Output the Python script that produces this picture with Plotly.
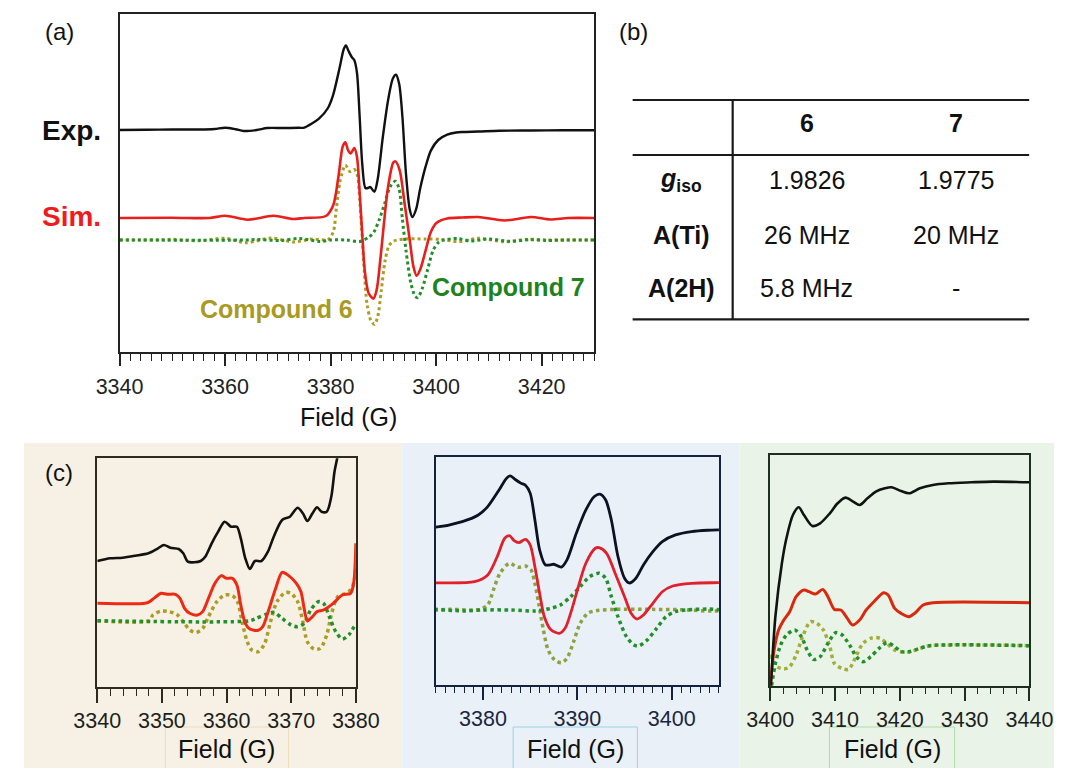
import numpy as np
import plotly.graph_objects as go

FONT = "Liberation Sans, Arial, sans-serif"
W, H = 1078, 768

# ---------------- data: EPR spectra (first-derivative, arb. units) ----------------
# full-range spectra (used in panel a and the central expanded view)
exp_field = [3340, 3345, 3350, 3355, 3358, 3360, 3362, 3363.5, 3366, 3368, 3371, 3374, 3375,
             3377.8, 3379.5, 3380.5, 3381.7, 3382.5, 3382.9, 3383.4, 3384.0, 3384.5, 3385.0,
             3385.5, 3386.0, 3386.6, 3387.1, 3387.5, 3388.3, 3388.9, 3389.9, 3390.9, 3391.8,
             3392.4, 3393.0, 3393.6, 3394.3, 3395.0, 3395.5, 3396.2, 3397.0, 3398.0, 3399.0,
             3400.4, 3402.1, 3403.8, 3405.0, 3408, 3412, 3418, 3424, 3430]
exp_signal = [0, 0.3, 0.5, 0.5, 1, 2.3, 0.8, -1, 0, 2, 2, 2.2, 2.4,
              11.4, 22, 35.4, 62, 81, 84.6, 79, 73, 69.7, 57,
              14, -34, -58, -58, -57, -61.7, -50, -7, 30, 51.5,
              55.3, 46, 14, -44.6, -79.4, -87, -79.4, -58, -36.7, -20.6,
              -10, -4.6, -2.5, -2, -1.5, -0.7, -0.5, -0.3, -0.3]

sim_field = [3340, 3350, 3357, 3360, 3364.3, 3369.2, 3372.8, 3375, 3379.1, 3380.5, 3381.5,
             3382.3, 3382.8, 3383.3, 3383.8, 3384.5, 3385.0, 3385.5, 3386.0, 3386.5, 3387.2,
             3388.1, 3388.7, 3389.4, 3390.1, 3390.9, 3391.9, 3392.3, 3393.1, 3394.0, 3395.0,
             3395.7, 3396.3, 3397.0, 3398.0, 3399.0, 3400.1, 3402.1, 3405, 3408, 3413, 3418,
             3421.6, 3425, 3430]
sim_signal = [0, 0.3, 0, 2.3, -1.7, 2.3, -1, 0, 2, 12.8, 42,
              71.6, 75.8, 67.8, 64.6, 70, 61, 26, -16.5, -54, -75,
              -80.6, -72.6, -43, -6, 31.6, 55.6, 56.6, 47.6, 15.5, -22,
              -48.6, -57.7, -51.3, -32.6, -14, -4.8, -0.5, 0.5, 1, -2.5, 1,
              -1.5, 0, 0]

cmp6_field = [3340, 3347, 3350, 3355, 3360, 3364, 3368.8, 3373, 3376.5, 3379.5, 3380.5, 3381.1,
              3381.8, 3382.8, 3383.7, 3384.5, 3385.1, 3385.5, 3385.9, 3386.4, 3386.9, 3387.6,
              3388.3, 3388.9, 3389.6, 3390.3, 3391.1, 3392.0, 3394, 3398, 3401, 3404.3, 3408,
              3413, 3417.3, 3421, 3430]
cmp6_signal = [0, 0, 0.7, -0.8, 1.7, -2.7, 2, -2, 1, 0.5, 8, 32,
               58.8, 74.8, 68.4, 70.5, 64, 42.7, 10.7, -32, -64, -80,
               -84.4, -77.4, -50.8, -21.4, -5.3, -1, 1, 1, 0.5, -1.7, 1.7,
               -1.7, 0.7, 0, 0]

cmp7_field = [3340, 3364, 3366, 3370.5, 3374, 3378, 3380, 3383, 3385.5, 3387.2, 3388.2, 3389.3,
              3390.3, 3391.3, 3392.3, 3393.0, 3393.6, 3394.3, 3395.2, 3396.0, 3396.5, 3397.4,
              3398.4, 3399.4, 3400.4, 3401.5, 3404, 3406.5, 3410, 3414, 3418, 3421, 3425, 3430]
cmp7_signal = [0, 0, 0.5, -0.5, 1.5, -1.5, 0, 0, -1.6, 2.7, 8, 21.4,
               37.4, 53.4, 58.8, 50.7, 21.4, -10.7, -42.7, -56, -57.7, -48,
               -29.4, -10.7, -2.7, 0, 1.5, -1, 1, -1.3, 0.3, -0.5, 0, 0]

# low-field wing, vertically expanded
lo_exp_field = [3340, 3342, 3343.9, 3345.9, 3347.9, 3349.4, 3350.3, 3351.3, 3352.6, 3353.3, 3354.0,
                3355.0, 3356.0, 3356.7, 3357.7, 3358.7, 3359.7, 3360.7, 3361.6, 3362.2, 3362.9,
                3363.6, 3364.4, 3365.4, 3366.4, 3367.3, 3368.6, 3369.8, 3371.0, 3371.8, 3372.5,
                3373.3, 3374.0, 3374.7, 3375.5, 3376.2, 3376.7, 3377.2, 3377.8]
lo_exp = [-1, 1.7, 2.3, 4.3, 6.7, 11.7, 15, 12.3, 11, 6.7, -1.7,
          -2.3, -1, 3.3, 16.7, 28.3, 38.3, 33.3, 33.3, 21.7, 1.7,
          -9, -1, -1, 8.3, 23.3, 40, 43.3, 52.3, 46.7, 39,
          46.7, 52.7, 48.3, 48.3, 63.3, 88.3, 105, 140]

lo_sim_field = [3340, 3347.4, 3348.1, 3348.9, 3349.9, 3350.8, 3352.1, 3352.8, 3353.5, 3354.3,
                3355.5, 3356.3, 3357.2, 3358.2, 3359.2, 3359.95, 3360.9, 3361.6, 3362.2, 3362.9,
                3363.6, 3364.9, 3365.6, 3366.6, 3367.6, 3368.6, 3369.6, 3370.8, 3371.5, 3372.0,
                3372.5, 3373.3, 3374.0, 3375.0, 3376.5, 3377.9, 3379.2, 3379.7, 3380]
lo_sim = [0, 0, 1.7, 5.7, 10, 9, 9, 5, -5, -10,
          -11.7, -8.3, 5, 20, 27.7, 25, 25, 18.3, -1.7, -20,
          -25.7, -27, -23.3, -5, 15, 31, 27.7, 20, 11.7, -5,
          -17.7, -13.3, -8.3, -6.7, 0, 8.3, 10, 21.7, 60]

lo_cmp6_field = [3340, 3348, 3348.6, 3349.9, 3351.1, 3352.3, 3353.3, 3354.3, 3355.3, 3356.3,
                 3357.2, 3358.5, 3359.7, 3360.9, 3361.7, 3362.4, 3363.2, 3363.9, 3364.9, 3365.9,
                 3366.8, 3367.8, 3369.1, 3370.0, 3371.0, 3371.8, 3372.5, 3373.5, 3374.5, 3375.5,
                 3376.2, 3377.2, 3378.4, 3379.4, 3380]
lo_cmp6 = [0, 0, 5.7, 9.7, 9, 6.3, -1, -9.3, -11.7, -7.7,
           4, 19, 25.7, 25, 19, -1, -21, -29.3, -31, -22.7,
           -1, 19, 28.3, 27.3, 19, -1, -21, -28.3, -27.7, -14.3,
           5.7, 24, 27.3, 32.3, 52]

lo_cmp7_field = [3340, 3363.6, 3364.6, 3366.1, 3367.3, 3368.6, 3370.0, 3371.0, 3372.0, 3373.0,
                 3374.2, 3375.0, 3376.0, 3376.9, 3377.9, 3378.9, 3380]
lo_cmp7 = [0, 0, 2.3, 6.3, 8.3, 2.3, -4.3, -6, -2.7, 10.7,
           19, 17.3, 2.3, -11, -18.3, -14.3, -2.7]

# high-field wing, vertically expanded
hi_exp_field = [3400, 3400.8, 3401.8, 3402.5, 3403.5, 3404.4, 3405.2, 3406.5, 3407.7, 3409.2,
                3410.4, 3411.6, 3412.8, 3413.8, 3415.0, 3416.3, 3417.7, 3418.7, 3420.2, 3421.4,
                3423.1, 3425.1, 3427.5, 3431, 3434.4, 3440]
hi_exp = [-215, -134, -81, -56, -32.7, -25, -32.7, -43.7, -41, -31,
          -21, -15.3, -19.3, -22.7, -16, -9.3, -6, -5, -8.7, -11,
          -6, -2.7, -1, 0, 0.7, 0]

hi_sim_field = [3400, 3400.6, 3401.3, 3402.1, 3403.0, 3404.0, 3405.2, 3406.0, 3407.0, 3408.1,
                3408.9, 3409.9, 3410.9, 3411.9, 3412.7, 3413.8, 3414.8, 3416.0, 3417.5, 3418.2,
                3419.2, 3420.2, 3421.4, 3422.4, 3423.6, 3425.1, 3440]
hi_sim = [-83, -47.3, -27.3, -17.3, -9, 6, 12.7, 11, 8.7, 13.3,
          6, -6.7, -7.3, -15.7, -22.3, -17.3, -7.3, 1, 10, 7.7,
          -5.7, -10.7, -14, -10, -2.3, 0, 0]

hi_cmp6_field = [3400, 3401.1, 3402.1, 3403.0, 3404.0, 3405.0, 3406.2, 3407.2, 3408.2, 3409.2,
                 3409.9, 3411.1, 3412.1, 3413.1, 3414.3, 3415.8, 3417.0, 3418.0, 3419.2, 3420.2,
                 3421.7, 3423.1, 3424.6, 3440]
hi_cmp6 = [-9.3, -21, -23.3, -21, -9.3, 9, 24, 22.3, 15.7, -1,
           -17.7, -22.7, -23.7, -12.7, 2.3, 8, 7.3, 2.3, -4.3, -6,
           -6, -2.7, 0, 0]

hi_cmp7_field = [3400.2, 3400.8, 3401.6, 3402.5, 3403.8, 3404.8, 3405.7, 3406.7, 3407.7, 3408.9,
                 3410.1, 3411.1, 3412.4, 3413.3, 3414.3, 3415.5, 3416.8, 3418.0, 3419.2, 3420.2,
                 3421.4, 3422.9, 3424.6, 3440]
hi_cmp7 = [-40, -17.7, 0.7, 10.7, 15.7, 9, -4.3, -13.7, -11, 2.3,
           13, 10.7, -1, -11, -16, -11, -2.7, 3, -1, -6,
           -6, -3, 0, 0]

# fitted parameters for table (b)
table_cols = ["6", "7"]
table_rows = ["<b><i>g</i></b><sub><b>iso</b></sub>", "<b>A(Ti)</b>", "<b>A(2H)</b>"]
table_vals = [["1.9826", "1.9775"], ["26 MHz", "20 MHz"], ["5.8 MHz", "-"]]

# ---------------- styling ----------------
RED = "#e8201c"
OLIVE = "#aa9c24"
GREEN = "#22902a"
TICK_SIZE = 21.5


def px_x(x):
    return x / W


def px_y(y):
    return 1 - y / H


def dom_x(a, b):
    return [a / W, b / W]


def dom_y(top, bottom):
    return [1 - bottom / H, 1 - top / H]


fig = go.Figure()


def add_set(xa, ya, sets):
    for fx, fy, off, color, width, dash in sets:
        fig.add_trace(go.Scatter(
            x=fx, y=np.asarray(fy, dtype=float) + off, mode="lines",
            line=dict(color=color, width=width, dash=dash, shape="spline", smoothing=0.8),
            xaxis=xa, yaxis=ya, showlegend=False, hoverinfo="skip"))


# panel (a)
add_set("x", "y", [
    (cmp6_field, cmp6_signal, -22, OLIVE, 3, "dot"),
    (cmp7_field, cmp7_signal, -22, GREEN, 3, "dot"),
    (sim_field, sim_signal, 0, RED, 2.6, "solid"),
    (exp_field, exp_signal, 88, "#111111", 2.4, "solid"),
])

# panel (c) centre
add_set("x2", "y2", [
    (cmp6_field, cmp6_signal, -43.3, "#8fa040", 3.5, "dot"),
    (cmp7_field, cmp7_signal, -43.3, GREEN, 3.5, "dot"),
    (sim_field, sim_signal, 0, "#e0202a", 2.8, "solid"),
    (exp_field, exp_signal, 87, "#0c1222", 2.8, "solid"),
])

# panel (c) left
add_set("x3", "y3", [
    (lo_cmp6_field, lo_cmp6, -17.4, OLIVE, 3.5, "dot"),
    (lo_cmp7_field, lo_cmp7, -17.4, GREEN, 3.5, "dot"),
    (lo_sim_field, lo_sim, 0, "#ee2a14", 3, "solid"),
    (lo_exp_field, lo_exp, 43.3, "#141210", 2.6, "solid"),
])

# panel (c) right
add_set("x4", "y4", [
    (hi_cmp6_field, hi_cmp6, -43, "#a3ad3a", 3.5, "dot"),
    (hi_cmp7_field, hi_cmp7, -43, GREEN, 3.5, "dot"),
    (hi_sim_field, hi_sim, 0, "#d8280e", 3, "solid"),
    (hi_exp_field, hi_exp, 120.4, "#101410", 2.6, "solid"),
])


def xaxis(domain, rng, tickvals, minor_dtick, color, ticklen, minorlen, anchor, standoff, fcolor):
    return dict(domain=domain, range=rng, anchor=anchor, showline=True, mirror=True,
                linecolor=color, linewidth=2, ticks="outside", ticklen=ticklen, tickwidth=1.6,
                tickcolor=color, tickmode="array", tickvals=tickvals,
                ticktext=[str(v) for v in tickvals],
                tickfont=dict(family=FONT, size=TICK_SIZE, color=fcolor),
                minor=dict(tickmode="linear", tick0=rng[0], dtick=minor_dtick, ticks="outside",
                           ticklen=minorlen, tickwidth=1.4, tickcolor=color),
                showgrid=False, zeroline=False, ticklabelstandoff=standoff, fixedrange=True)


def yaxis(domain, rng, color, anchor):
    return dict(domain=domain, range=rng, anchor=anchor, showline=True, mirror=True,
                linecolor=color, linewidth=2, showticklabels=False, ticks="",
                showgrid=False, zeroline=False, fixedrange=True)


fig.update_layout(
    width=W, height=H, margin=dict(l=0, r=0, t=0, b=0),
    paper_bgcolor="white", plot_bgcolor="rgba(0,0,0,0)",
    xaxis=xaxis(dom_x(100, 597), [3340, 3430], list(range(3340, 3421, 20)), 2,
                "#222222", 12, 7, "y", 3, "#222222"),
    # unlabeled long ticks every 10 G on panel (a)
    xaxis5=dict(overlaying="x", anchor="y", side="bottom", range=[3340, 3430],
                tickmode="linear", tick0=3340, dtick=10, ticks="outside", ticklen=12,
                tickwidth=1.6, tickcolor="#222222", showticklabels=False, showline=False,
                showgrid=False, zeroline=False, fixedrange=True),
    yaxis=yaxis(dom_y(14, 351.5), [-133.5, 204], "#222222", "x"),
    xaxis2=xaxis(dom_x(431, 727.3), [3375, 3405], [3380, 3390, 3400],
                 1, "#13233f", 13, 6, "y2", 0, "#1b2640"),
    yaxis2=yaxis(dom_y(457.3, 685), [-163.5, 201.4], "#13233f", "x2"),
    xaxis3=xaxis(dom_x(76.7, 347.3), [3340, 3380], list(range(3340, 3381, 10)),
                 2, "#2e2a20", 14, 7, "y3", -1, "#1e1e1e"),
    yaxis3=yaxis(dom_y(458.3, 687.3), [-84, 145], "#2e2a20", "x3"),
    xaxis4=xaxis(dom_x(781, 1052.3), [3400, 3440], list(range(3400, 3441, 10)),
                 2, "#1e2e1e", 13, 6, "y4", 0, "#1e1e1e"),
    yaxis4=yaxis(dom_y(455, 685.7), [-83, 147.7], "#1e2e1e", "x4"),
)

shapes = []
# coloured backdrops of the three expanded views
for x0, x1, col in [(0, 396, "#f6f1e4"), (396, 749, "#eaf0f8"), (749, W, "#eaf3e8")]:
    shapes.append(dict(type="rect", xref="paper", yref="paper", x0=px_x(x0), x1=px_x(x1),
                       y0=0, y1=px_y(443), fillcolor=col, line=dict(width=0), layer="below"))
# framed axis-title boxes
for x0, x1, col in [(148, 277, "#ecdcb8"), (512, 642, "#98d3ea"), (843, 974, "#abdeab")]:
    shapes.append(dict(type="rect", xref="paper", yref="paper", x0=px_x(x0), x1=px_x(x1),
                       y0=px_y(770), y1=px_y(727), fillcolor="rgba(0,0,0,0)",
                       line=dict(width=1, color=col), layer="below"))
# table (b) rules
for y in [100, 155, 319.3]:
    shapes.append(dict(type="line", xref="paper", yref="paper", x0=px_x(637), x1=px_x(1052),
                       y0=px_y(y), y1=px_y(y), line=dict(color="#1a1a1a", width=2.2)))
shapes.append(dict(type="line", xref="paper", yref="paper", x0=px_x(741.7), x1=px_x(741.7),
                   y0=px_y(100), y1=px_y(319.3), line=dict(color="#1a1a1a", width=2.2)))
fig.update_layout(shapes=shapes)

ann = []


def text(x, y, s, size, color="#111111", bold=False):
    ann.append(dict(x=px_x(x), y=px_y(y), xref="paper", yref="paper", text=f"<b>{s}</b>" if bold else s,
                    showarrow=False, xanchor="center", yanchor="middle",
                    font=dict(family=FONT, size=size, color=color)))


text(37, 32, "(a)", 24)
text(638, 32, "(b)", 24)
text(37, 472, "(c)", 24)
text(50, 131, "Exp.", 28, "#111111", True)
text(50, 217, "Sim.", 28, "#ee1c1c", True)
text(264, 309, "Compound 6", 25, "#a89a22", True)
text(507, 287, "Compound 7", 25, "#1e821e", True)
text(340, 417, "Field (G)", 25)
text(212, 749, "Field (G)", 25)
text(577, 749, "Field (G)", 25)
text(909, 749, "Field (G)", 25)

# table (b) text
col_x = [819, 975]
for cx, c in zip(col_x, table_cols):
    text(cx, 123, c, 25, "#111111", True)
row_y = [180, 235, 288]
for ry, lab, vals in zip(row_y, table_rows, table_vals):
    text(688, ry, lab, 25)
    for cx, v in zip(col_x, vals):
        text(cx, ry, v, 25)

fig.update_layout(annotations=ann)
fig.write_html("out.html")
